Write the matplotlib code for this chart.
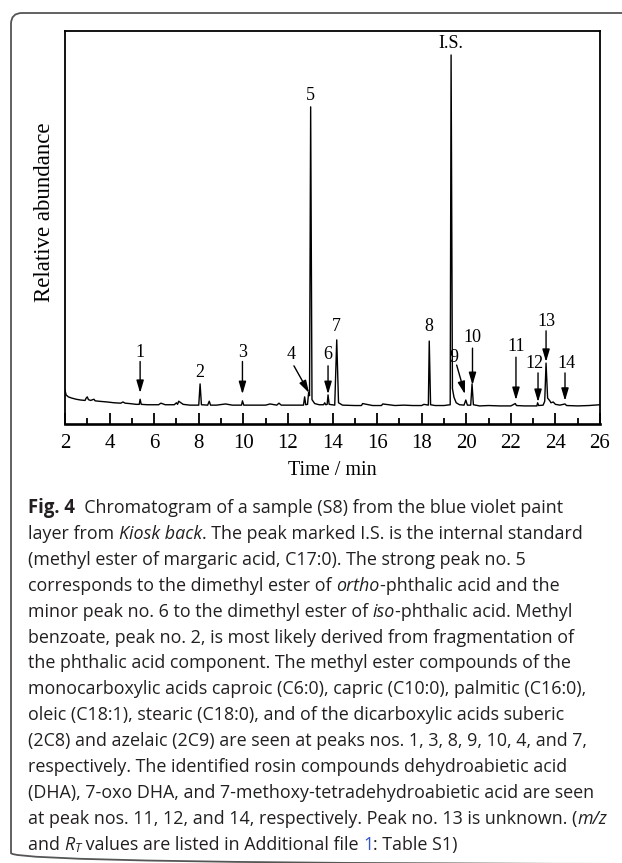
import matplotlib
matplotlib.use('Agg')
import matplotlib.pyplot as plt
from matplotlib.patches import FancyBboxPatch
from matplotlib.font_manager import FontProperties

# chromatogram trace (time / min, relative abundance)
time_min = [2.00, 2.05, 2.15, 2.30, 2.50, 2.70, 2.90, 2.95, 3.00, 3.05, 3.15, 3.30, 3.35,
            3.50, 3.70, 3.90, 4.20, 4.50, 4.60, 4.70, 4.90, 5.20, 5.33, 5.37, 5.42, 5.70,
            6.20, 6.30, 6.50, 6.90, 7.00, 7.05, 7.10, 7.30, 7.60, 8.00, 8.06, 8.12, 8.40,
            8.47, 8.53, 8.80, 9.20, 9.50, 9.92, 9.96, 10.02, 10.50, 11.00, 11.20, 11.50,
            11.60, 11.70, 12.20, 12.70, 12.75, 12.80, 12.88, 12.93, 12.97, 13.02, 13.08,
            13.20, 13.40, 13.60, 13.65, 13.70, 13.76, 13.80, 13.85, 14.10, 14.19, 14.27,
            14.45, 15.00, 15.30, 15.35, 15.80, 16.20, 16.25, 16.80, 17.20, 17.60, 18.00,
            18.10, 18.30, 18.34, 18.40, 18.60, 19.00, 19.28, 19.32, 19.38, 19.45, 19.55,
            19.70, 19.90, 19.98, 20.05, 20.20, 20.26, 20.32, 20.60, 21.00, 21.50, 22.00,
            22.20, 22.25, 22.60, 23.00, 23.17, 23.20, 23.25, 23.45, 23.52, 23.58, 23.65,
            23.75, 23.80, 23.90, 24.00, 24.20, 24.43, 24.50, 25.00, 25.50, 26.00]
abundance = [8.6, 7.4, 6.9, 6.6, 6.3, 6.1, 6.0, 6.6, 6.9, 6.2, 6.0, 6.3, 5.9,
             5.8, 5.7, 5.6, 5.4, 5.3, 5.6, 5.3, 5.2, 5.0, 5.0, 6.3, 5.0, 4.9,
             4.9, 5.3, 4.9, 4.9, 5.4, 5.0, 5.8, 5.0, 4.8, 4.8, 10.2, 4.9, 4.8,
             5.8, 4.8, 4.8, 5.1, 4.8, 4.8, 5.9, 4.8, 4.8, 4.8, 5.1, 4.8,
             5.3, 4.8, 4.8, 4.8, 6.9, 4.9, 5.0, 8.1, 7.2, 80.7, 6.2,
             5.2, 4.9, 4.9, 5.4, 4.9, 5.0, 7.4, 5.0, 4.8, 21.4, 5.4,
             4.8, 4.7, 4.7, 5.2, 4.7, 4.7, 5.1, 4.7, 4.8, 4.7, 4.7,
             5.0, 4.8, 21.1, 4.9, 4.7, 4.7, 4.9, 93.9, 9.0, 6.8, 5.4,
             4.9, 4.8, 6.1, 4.8, 4.8, 10.2, 4.9, 4.6, 4.7, 4.6, 4.6,
             5.2, 4.7, 4.6, 4.6, 4.6, 5.4, 4.7, 4.8, 5.8, 15.5, 6.6,
             5.9, 5.4, 5.6, 5.0, 4.8, 5.1, 4.7, 4.6, 4.7, 4.9]

# peak labels without arrows
tall_labels = ['2', '5', '7', '8', 'I.S.']
tall_x = [8.06, 13.02, 14.19, 18.34, 19.32]
tall_y = [13.0, 83.7, 24.7, 24.7, 96.7]

# peak labels with arrows: label position, arrow tail, arrow tip
arrow_labels = ['1', '3', '4', '6', '9', '10', '11', '12', '13', '14']
arrow_lx = [5.37, 9.96, 12.14, 13.80, 19.45, 20.28, 22.23, 23.04, 23.62, 24.48]
arrow_ly = [18.3, 18.3, 17.6, 17.6, 16.8, 21.9, 19.6, 15.3, 26.0, 15.3]
tail_x = [5.37, 9.96, 12.27, 13.80, 19.57, 20.28, 22.23, 23.22, 23.58, 24.43]
tail_y = [15.9, 15.9, 14.8, 14.8, 15.0, 19.3, 17.0, 13.0, 23.7, 13.0]
tip_x = [5.37, 9.96, 12.95, 13.80, 19.94, 20.28, 22.23, 23.22, 23.58, 24.43]
tip_y = [7.9, 7.6, 7.9, 7.6, 7.6, 9.9, 6.1, 5.6, 15.8, 5.9]

caption = [
    [("Fig. 4", "b"), ("  Chromatogram of a sample (S8) from the blue violet paint", "n")],
    [("layer from ", "n"), ("Kiosk back", "i"), (". The peak marked I.S. is the internal standard", "n")],
    [("(methyl ester of margaric acid, C17:0). The strong peak no. 5", "n")],
    [("corresponds to the dimethyl ester of ", "n"), ("ortho", "i"), ("-phthalic acid and the", "n")],
    [("minor peak no. 6 to the dimethyl ester of ", "n"), ("iso", "i"), ("-phthalic acid. Methyl", "n")],
    [("benzoate, peak no. 2, is most likely derived from fragmentation of", "n")],
    [("the phthalic acid component. The methyl ester compounds of the", "n")],
    [("monocarboxylic acids caproic (C6:0), capric (C10:0), palmitic (C16:0),", "n")],
    [("oleic (C18:1), stearic (C18:0), and of the dicarboxylic acids suberic", "n")],
    [("(2C8) and azelaic (2C9) are seen at peaks nos. 1, 3, 8, 9, 10, 4, and 7,", "n")],
    [("respectively. The identified rosin compounds dehydroabietic acid", "n")],
    [("(DHA), 7-oxo DHA, and 7-methoxy-tetradehydroabietic acid are seen", "n")],
    [("at peak nos. 11, 12, and 14, respectively. Peak no. 13 is unknown. (", "n"), ("m/z", "i")],
    [("and ", "n"), ("R", "i"), ("T", "sub"), (" values are listed in Additional file ", "n"),
     ("1", "link"), (": Table S1)", "n")],
]

W, H = 622, 863
fig = plt.figure(figsize=(W / 100, H / 100), dpi=100)

# background frame (rounded corner on the left)
bg = fig.add_axes([0, 0, 1, 1], zorder=-5)
bg.set_xlim(0, W)
bg.set_ylim(H, 0)
bg.axis('off')
bg.add_patch(FancyBboxPatch((11, 13), 720, 851, boxstyle="round,pad=0,rounding_size=11",
                            fill=False, edgecolor='#555555', lw=1.3))

serif = 'Liberation Serif'
ax = fig.add_axes([65 / W, 1 - 424 / H, 535 / W, 393 / H])
ax.plot(time_min, abundance, color='black', lw=1.0)
ax.set_xlim(2, 26)
ax.set_ylim(0, 100)
ax.set_xticks(range(2, 27, 2))
ax.set_xticks(range(3, 26, 2), minor=True)
ax.set_yticks([])
ax.tick_params(axis='x', which='major', direction='in', length=8, width=1.3, pad=7,
               labelsize=15)
ax.tick_params(axis='x', which='minor', direction='in', length=4, width=1.3)
for lab in ax.get_xticklabels():
    lab.set_fontfamily(serif)
for side in ['left', 'top', 'right']:
    ax.spines[side].set_linewidth(1.3)
ax.spines['bottom'].set_linewidth(1.9)
ax.set_xlabel('Time / min', fontfamily=serif, fontsize=14.5, labelpad=6)
ax.set_ylabel('Relative abundance', fontfamily=serif, fontsize=16.5)
ax.yaxis.set_label_coords(-0.018, 0.54)

for t, x, y in zip(tall_labels, tall_x, tall_y):
    ax.text(x, y, t, ha='center', va='center', fontfamily=serif, fontsize=13)
for i, t in enumerate(arrow_labels):
    ax.text(arrow_lx[i], arrow_ly[i], t, ha='center', va='center', fontfamily=serif, fontsize=13)
    ax.annotate('', xy=(tip_x[i], tip_y[i]), xytext=(tail_x[i], tail_y[i]),
                arrowprops=dict(arrowstyle='-|>,head_length=0.75,head_width=0.22',
                                mutation_scale=10, color='black', lw=1.0,
                                shrinkA=0, shrinkB=0))

# caption with mixed styles
sans = 'Open Sans'
renderer = fig.canvas.get_renderer()
text_color = '#231f20'


def props(style, size):
    if style == 'b':
        return FontProperties(family=sans, weight='bold', size=size * 1.04)
    if style in ('i', 'sub'):
        return FontProperties(family=sans, style='italic', size=size * (0.7 if style == 'sub' else 1))
    return FontProperties(family=sans, size=size)


def seg_width(s, fp):
    w1 = renderer.get_text_width_height_descent('x' + s + 'x', fp, ismath=False)[0]
    w0 = renderer.get_text_width_height_descent('xx', fp, ismath=False)[0]
    return w1 - w0


# pick caption size so the widest reference line spans its measured width
ref = caption[11][0][0]
cap_size = 10 * 564 / seg_width(ref, props('n', 10))

x0, y0, dy = 28, 508, 25.9
for k, line in enumerate(caption):
    x = x0
    y = y0 + k * dy
    for s, st in line:
        fp = props(st, cap_size)
        col = '#3355cc' if st == 'link' else text_color
        yy = y + (4 if st == 'sub' else 0)
        bg.text(x, yy, s, fontproperties=fp, color=col, ha='left', va='center')
        x += seg_width(s, fp)

fig.savefig('out.png', dpi=100)
